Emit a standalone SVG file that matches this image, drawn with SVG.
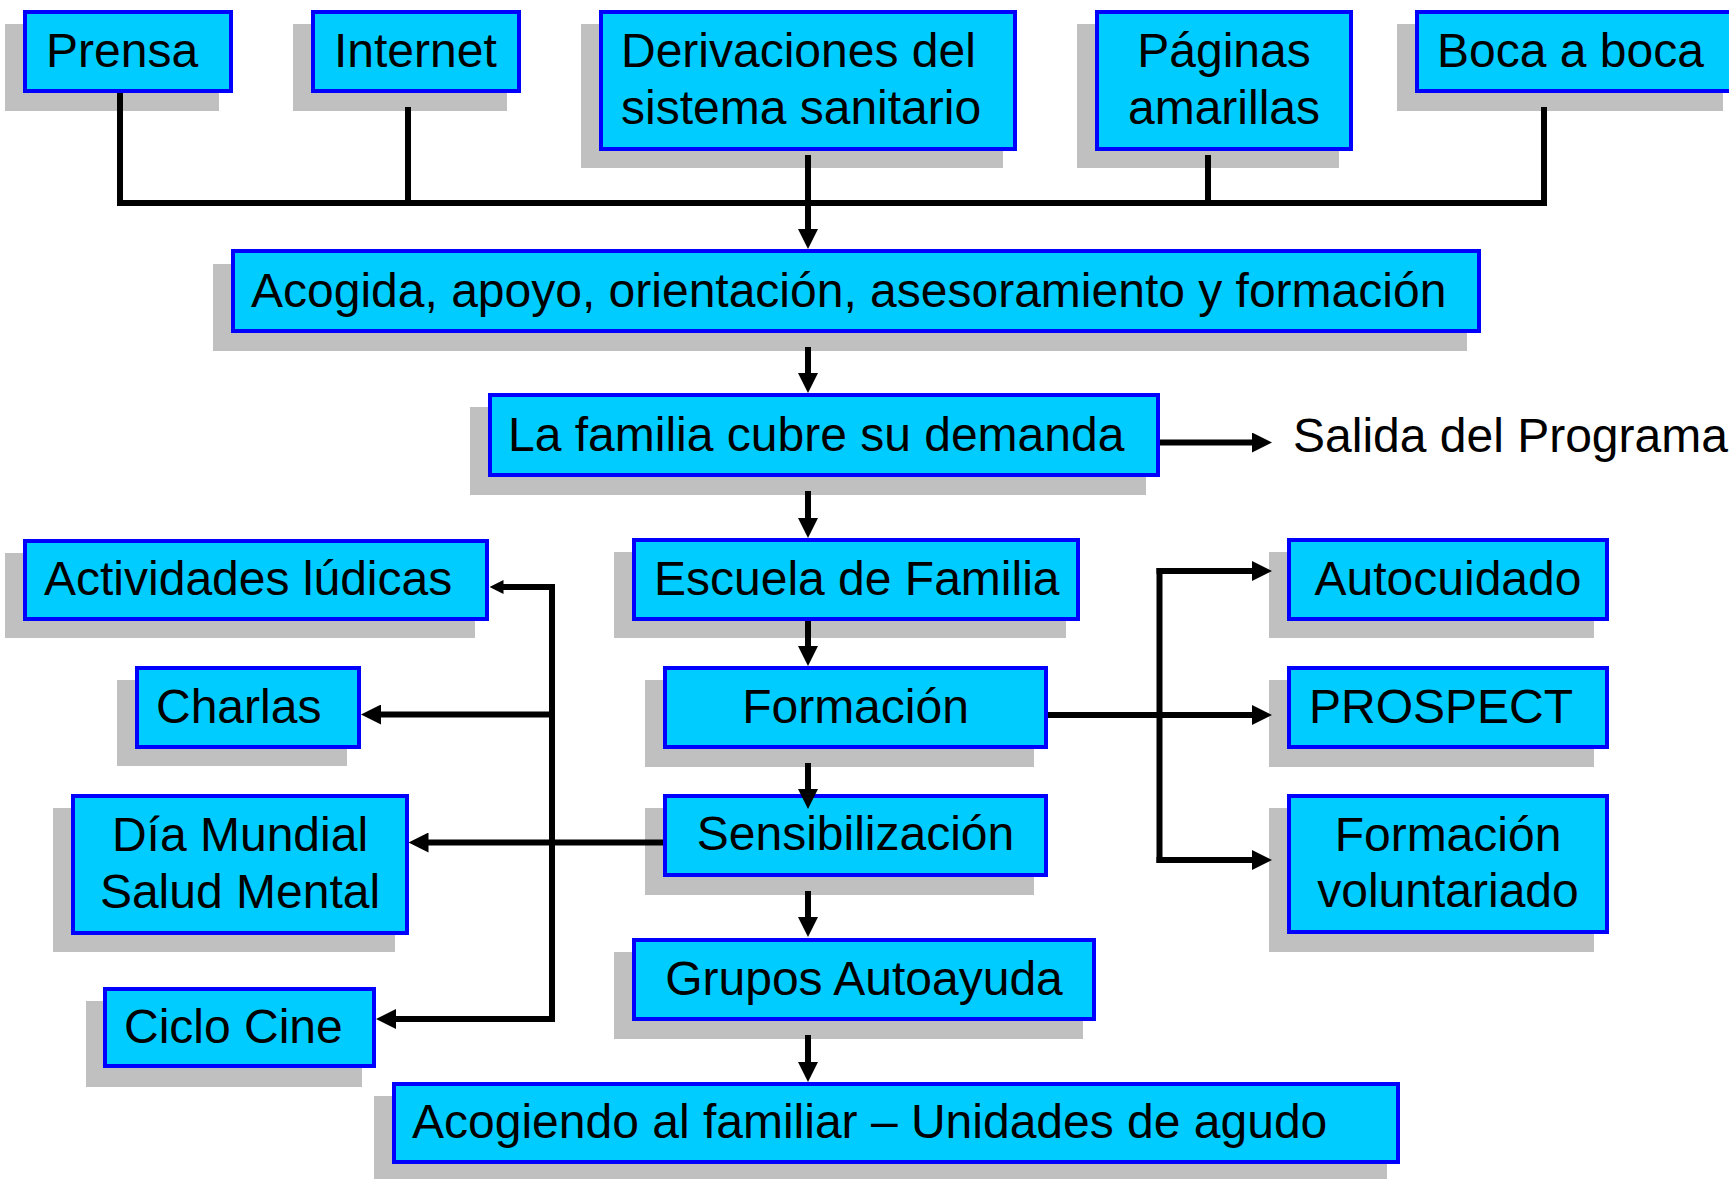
<svg xmlns="http://www.w3.org/2000/svg" width="1729" height="1179" viewBox="0 0 1729 1179">
<style>
.sh{fill:#C0C0C0}
.bx{fill:#00CCFF;stroke:#0000FF;stroke-width:4}
.t{font-family:"Liberation Sans",Arial,sans-serif;font-size:48px;fill:#000}
.c{text-anchor:middle}
.ln{stroke:#000;stroke-width:6;fill:none}
</style>
<defs>
<marker id="ah" markerUnits="userSpaceOnUse" markerWidth="20" markerHeight="20" refX="10" refY="10" orient="auto" viewBox="0 0 20 20">
<path d="M0,0 L20,10 L0,20 z" fill="#000"/>
</marker>
<marker id="ahs" markerUnits="userSpaceOnUse" markerWidth="14" markerHeight="14" refX="7" refY="7" orient="auto" viewBox="0 0 14 14">
<path d="M0,0 L14,7 L0,14 z" fill="#000"/>
</marker>
</defs>
<rect width="1729" height="1179" fill="#fff"/>

<g id="prensa"><rect class="sh" x="5" y="24" width="214" height="87"/><rect class="bx" x="25" y="12" width="206" height="79"/><text class="t" x="46" y="67">Prensa</text></g>
<g id="internet"><rect class="sh" x="293" y="24" width="214" height="87"/><rect class="bx" x="313" y="12" width="206" height="79"/><text class="t" x="334" y="67">Internet</text></g>
<g id="derivaciones"><rect class="sh" x="581" y="24" width="422" height="144"/><rect class="bx" x="601" y="12" width="414" height="137"/><text class="t" x="621" y="67">Derivaciones del</text><text class="t" x="621" y="124">sistema sanitario</text></g>
<g id="paginas"><rect class="sh" x="1077" y="24" width="262" height="144"/><rect class="bx" x="1097" y="12" width="254" height="137"/><text class="t c" x="1224" y="67">Páginas</text><text class="t c" x="1224" y="124">amarillas</text></g>
<g id="boca"><rect class="sh" x="1397" y="24" width="326" height="87"/><rect class="bx" x="1417" y="12" width="318" height="79"/><text class="t" x="1437" y="67">Boca a boca</text></g>

<g id="acogida"><rect class="sh" x="213" y="264" width="1254" height="87"/><rect class="bx" x="233" y="251" width="1246" height="80"/><text class="t" x="251" y="307">Acogida, apoyo, orientación, asesoramiento y formación</text></g>
<g id="familia"><rect class="sh" x="470" y="407" width="676" height="88"/><rect class="bx" x="490" y="395" width="668" height="80"/><text class="t" x="508" y="451">La familia cubre su demanda</text></g>
<g id="salida"><text class="t" x="1293" y="452">Salida del Programa</text></g>

<g id="escuela"><rect class="sh" x="614" y="552" width="452" height="86"/><rect class="bx" x="634" y="540" width="444" height="79"/><text class="t" x="654" y="595">Escuela de Familia</text></g>
<g id="formacion"><rect class="sh" x="645" y="680" width="389" height="87"/><rect class="bx" x="665" y="668" width="381" height="79"/><text class="t c" x="855.5" y="723">Formación</text></g>
<g id="sensibilizacion"><rect class="sh" x="645" y="808" width="389" height="87"/><rect class="bx" x="665" y="796" width="381" height="79"/><text class="t c" x="855.5" y="850">Sensibilización</text></g>
<g id="grupos"><rect class="sh" x="614" y="952" width="469" height="87"/><rect class="bx" x="634" y="940" width="460" height="79"/><text class="t c" x="864" y="995">Grupos Autoayuda</text></g>
<g id="acogiendo"><rect class="sh" x="374" y="1096" width="1013" height="90"/><rect class="bx" x="394" y="1084" width="1004" height="78"/><text class="t" x="412" y="1138">Acogiendo al familiar – Unidades de agudo</text></g>

<g id="actividades"><rect class="sh" x="5" y="553" width="470" height="85"/><rect class="bx" x="25" y="541" width="462" height="78"/><text class="t" x="44" y="595">Actividades lúdicas</text></g>
<g id="charlas"><rect class="sh" x="117" y="680" width="230" height="86"/><rect class="bx" x="137" y="668" width="222" height="79"/><text class="t" x="156" y="723">Charlas</text></g>
<g id="dia"><rect class="sh" x="53" y="808" width="342" height="144"/><rect class="bx" x="73" y="796" width="334" height="137"/><text class="t c" x="240" y="851">Día Mundial</text><text class="t c" x="240" y="908">Salud Mental</text></g>
<g id="ciclo"><rect class="sh" x="86" y="1001" width="276" height="86"/><rect class="bx" x="105" y="989" width="269" height="77"/><text class="t" x="124" y="1043">Ciclo Cine</text></g>

<g id="autocuidado"><rect class="sh" x="1269" y="552" width="325" height="86"/><rect class="bx" x="1289" y="540" width="318" height="79"/><text class="t c" x="1448" y="595">Autocuidado</text></g>
<g id="prospect"><rect class="sh" x="1269" y="680" width="325" height="87"/><rect class="bx" x="1289" y="668" width="318" height="79"/><text class="t" x="1309" y="723">PROSPECT</text></g>
<g id="voluntariado"><rect class="sh" x="1269" y="808" width="325" height="144"/><rect class="bx" x="1289" y="796" width="318" height="136"/><text class="t c" x="1448" y="851">Formación</text><text class="t c" x="1448" y="907">voluntariado</text></g>

<g id="connectors">
<path class="ln" d="M120,93 V203 M408,107 V203 M1208,155 V203 M1544,107 V203 M117,203 H1547"/>
<path class="ln" d="M808,155 V239" marker-end="url(#ah)"/>
<path class="ln" d="M808,347 V383" marker-end="url(#ah)"/>
<path class="ln" d="M1160,442.5 H1262" marker-end="url(#ah)"/>
<path class="ln" d="M808,491 V528" marker-end="url(#ah)"/>
<path class="ln" d="M808,621 V656" marker-end="url(#ah)"/>
<path class="ln" d="M808,763 V799" marker-end="url(#ah)"/>
<path class="ln" d="M808,891 V927" marker-end="url(#ah)"/>
<path class="ln" d="M808,1035 V1072" marker-end="url(#ah)"/>
<path class="ln" d="M1048,715 H1262" marker-end="url(#ah)"/>
<path class="ln" d="M1159.5,568 V863"/>
<path class="ln" d="M1156.5,571 H1262" marker-end="url(#ah)"/>
<path class="ln" d="M1156.5,860 H1262" marker-end="url(#ah)"/>
<path class="ln" d="M663,842.5 H418.5" marker-end="url(#ah)"/>
<path class="ln" d="M552,584 V1022"/>
<path class="ln" d="M555,587 H496.5" marker-end="url(#ahs)"/>
<path class="ln" d="M552,714.5 H371" marker-end="url(#ah)"/>
<path class="ln" d="M555,1019 H386" marker-end="url(#ah)"/>
</g>
</svg>
